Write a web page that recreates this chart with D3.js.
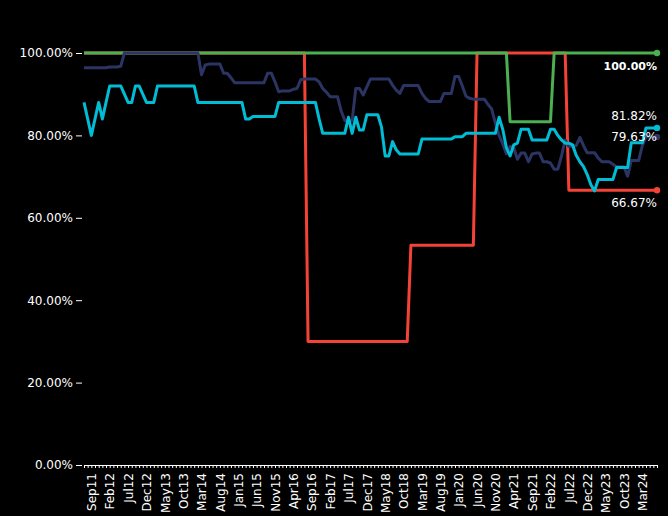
<!DOCTYPE html>
<html>
<head>
<meta charset="utf-8">
<script src="https://cdn.jsdelivr.net/npm/d3@7"></script>
<style>
  body { margin: 0; background: #000; }
  svg { display: block; background: #000; font-family: "DejaVu Sans", sans-serif; }
</style>
</head>
<body>
<svg id="chart" width="668" height="516"></svg>
<script>

// months on the x axis, Jul 2011 .. Jul 2024
var months = [
  "Jul11","Aug11","Sep11","Oct11","Nov11","Dec11",
  "Jan12","Feb12","Mar12","Apr12","May12","Jun12","Jul12","Aug12","Sep12","Oct12","Nov12","Dec12",
  "Jan13","Feb13","Mar13","Apr13","May13","Jun13","Jul13","Aug13","Sep13","Oct13","Nov13","Dec13",
  "Jan14","Feb14","Mar14","Apr14","May14","Jun14","Jul14","Aug14","Sep14","Oct14","Nov14","Dec14",
  "Jan15","Feb15","Mar15","Apr15","May15","Jun15","Jul15","Aug15","Sep15","Oct15","Nov15","Dec15",
  "Jan16","Feb16","Mar16","Apr16","May16","Jun16","Jul16","Aug16","Sep16","Oct16","Nov16","Dec16",
  "Jan17","Feb17","Mar17","Apr17","May17","Jun17","Jul17","Aug17","Sep17","Oct17","Nov17","Dec17",
  "Jan18","Feb18","Mar18","Apr18","May18","Jun18","Jul18","Aug18","Sep18","Oct18","Nov18","Dec18",
  "Jan19","Feb19","Mar19","Apr19","May19","Jun19","Jul19","Aug19","Sep19","Oct19","Nov19","Dec19",
  "Jan20","Feb20","Mar20","Apr20","May20","Jun20","Jul20","Aug20","Sep20","Oct20","Nov20","Dec20",
  "Jan21","Feb21","Mar21","Apr21","May21","Jun21","Jul21","Aug21","Sep21","Oct21","Nov21","Dec21",
  "Jan22","Feb22","Mar22","Apr22","May22","Jun22","Jul22","Aug22","Sep22","Oct22","Nov22","Dec22",
  "Jan23","Feb23","Mar23","Apr23","May23","Jun23","Jul23","Aug23","Sep23","Oct23","Nov23","Dec23",
  "Jan24","Feb24","Mar24","Apr24","May24","Jun24","Jul24"
];

var yTicks = [0, 20, 40, 60, 80, 100];

var greenValues = [
  100,100,100,100,100,100,
  100,100,100,100,100,100,100,100,100,100,100,100,
  100,100,100,100,100,100,100,100,100,100,100,100,
  100,100,100,100,100,100,100,100,100,100,100,100,
  100,100,100,100,100,100,100,100,100,100,100,100,
  100,100,100,100,100,100,100,100,100,100,100,100,
  100,100,100,100,100,100,100,100,100,100,100,100,
  100,100,100,100,100,100,100,100,100,100,100,100,
  100,100,100,100,100,100,100,100,100,100,100,100,
  100,100,100,100,100,100,100,100,100,100,100,100,
  100,100,83.33,83.33,83.33,83.33,83.33,83.33,83.33,83.33,83.33,83.33,
  83.33,83.33,100,100,100,100,100,100,100,100,100,100,
  100,100,100,100,100,100,100,100,100,100,100,100,
  100,100,100,100,100,100,100
];

var redValues = [
  100,100,100,100,100,100,
  100,100,100,100,100,100,100,100,100,100,100,100,
  100,100,100,100,100,100,100,100,100,100,100,100,
  100,100,100,100,100,100,100,100,100,100,100,100,
  100,100,100,100,100,100,100,100,100,100,100,100,
  100,100,100,100,100,100,100,30,30,30,30,30,
  30,30,30,30,30,30,30,30,30,30,30,30,
  30,30,30,30,30,30,30,30,30,30,30,53.33,
  53.33,53.33,53.33,53.33,53.33,53.33,53.33,53.33,53.33,53.33,53.33,53.33,
  53.33,53.33,53.33,53.33,53.33,100,100,100,100,100,100,100,
  100,100,100,100,100,100,100,100,100,100,100,100,
  100,100,100,100,100,100,66.67,66.67,66.67,66.67,66.67,66.67,
  66.67,66.67,66.67,66.67,66.67,66.67,66.67,66.67,66.67,66.67,66.67,66.67,
  66.67,66.67,66.67,66.67,66.67,66.67,66.67
];

var navyValues = [
  96.4,96.4,96.4,96.4,96.4,96.4,
  96.4,96.6,96.6,96.6,96.8,100,100,100,100,100,100,100,
  100,100,100,100,100,100,100,100,100,100,100,100,
  100,100,94.7,97.1,97.3,97.3,97.3,97.3,95.1,95.1,94,92.8,
  92.8,92.8,92.8,92.8,92.8,92.8,92.8,92.8,95.1,95.1,93,90.6,
  90.8,90.8,90.8,91.2,91.4,93.5,93.7,93.7,93.7,93.7,93,91.4,
  90.5,89.4,89.4,89.4,86,83.6,83.6,83.6,91.4,91.4,89.8,91.8,
  93.7,93.7,93.7,93.7,93.7,93.7,92.2,91,90.2,92.1,92.1,92.1,
  92.1,92.1,90.2,89,88.2,88.2,88.2,88.2,90.2,90.2,90.2,94.3,
  94.3,92,89.5,89,88.8,88.8,88.8,88.8,87.5,86.4,83,80,
  78,75.5,77.3,77,74.2,75.7,75.7,73.6,75.5,75.7,75.7,73.6,
  73.6,73.3,71.8,71.8,75,78.9,77.3,77.5,77.5,79.5,77.5,75.8,
  75.8,75.8,74.5,73.6,73.6,73.6,73,72.4,72.4,72.4,70.1,73.9,
  73.9,73.9,77.5,79.63,79.63,79.63,79.63
];

var cyanValues = [
  88,84,80,84,88,84,
  88,92,92,92,92,90,88,88,92,92,90,88,
  88,88,92,92,92,92,92,92,92,92,92,92,
  92,88,88,88,88,88,88,88,88,88,88,88,
  88,88,84,84,84.6,84.6,84.6,84.6,84.6,84.6,84.6,88,
  88,88,88,88,88,88,88,88,88,88,84,80.5,
  80.5,80.5,80.5,80.5,80.5,80.5,84.4,80.5,84.4,81.3,81.3,85,
  85,85,85,82,75,75,78.5,76.5,75.5,75.5,75.5,75.5,
  75.5,75.5,79.1,79.1,79.1,79.1,79.1,79.1,79.1,79.1,79.1,79.7,
  79.7,79.7,80.5,80.5,80.5,80.5,80.5,80.5,80.5,80.5,80.5,84.4,
  81.5,77,75,77.7,78.1,81.5,81.5,81.5,78.9,78.9,78.9,78.9,
  78.9,81.5,81.5,80,78.9,78.1,78.1,77.7,75.2,73.6,72.4,70.5,
  68,66.5,69.3,69.3,69.3,69.3,69.3,72.2,72.2,72.2,72.2,78.2,
  78.2,78.2,78.2,81.82,81.82,81.82,81.82
];

var series = [
  { name: "red",   values: redValues,   color: "#f44336", labelDy: 17, bold: false },
  { name: "green", values: greenValues, color: "#4caf50", labelDy: 17, bold: true },
  { name: "navy",  values: navyValues,  color: "#2c3463", labelDy: 4,  bold: false },
  { name: "cyan",  values: cyanValues,  color: "#00bcd4", labelDy: -8, bold: false }
];

var svg = d3.select("#chart");
var plotLeft = 82, plotRight = 657, plotTop = 53, plotBottom = 465;

var x = d3.scalePoint()
    .domain(months)
    .range([plotLeft + 2, plotRight]);

var y = d3.scaleLinear()
    .domain([0, 100])
    .range([plotBottom, plotTop]);

// y axis
var yAxis = svg.append("g")
    .attr("transform", "translate(" + plotLeft + ",0)")
    .call(d3.axisLeft(y).tickValues(yTicks).tickSize(6).tickPadding(3)
      .tickFormat(function(d){ return d.toFixed(2) + "%"; }));
yAxis.select(".domain").remove();
yAxis.selectAll("line").attr("stroke", "#fff");
yAxis.selectAll("text")
    .attr("fill", "#fff")
    .style("font-size", "12px")
    .style("font-family", "DejaVu Sans");

// x axis
var xAxis = svg.append("g")
    .attr("transform", "translate(0," + plotBottom + ")")
    .call(d3.axisBottom(x).tickSizeInner(3).tickSizeOuter(0)
      .tickFormat(function(d, i){ return i % 5 === 2 ? d : ""; }));
xAxis.select(".domain").attr("stroke", "#fff");
xAxis.selectAll("line").attr("stroke", "#fff");
xAxis.selectAll("text")
    .attr("fill", "#fff")
    .style("font-size", "12px")
    .style("font-family", "DejaVu Sans")
    .style("text-anchor", "end")
    .attr("x", -8)
    .attr("y", 0)
    .attr("dy", "0.35em")
    .attr("transform", "rotate(-90)");

var line = d3.line()
    .x(function(d, i){ return x(months[i]); })
    .y(function(d){ return y(d); });

series.forEach(function(s){
  svg.append("path")
      .datum(s.values)
      .attr("fill", "none")
      .attr("stroke", s.color)
      .attr("stroke-width", 3)
      .attr("stroke-linejoin", "round")
      .attr("d", line);
});

series.forEach(function(s){
  var last = s.values.length - 1;
  svg.append("circle")
      .attr("cx", x(months[last]))
      .attr("cy", y(s.values[last]))
      .attr("r", 3.2)
      .attr("fill", s.color);
});

// end labels
series.forEach(function(s){
  var last = s.values.length - 1;
  svg.append("text")
      .attr("x", x(months[last]))
      .attr("y", y(s.values[last]) + s.labelDy)
      .attr("text-anchor", "end")
      .attr("fill", "#fff")
      .style("font-size", s.bold ? "11px" : "12px")
      .style("font-weight", s.bold ? "bold" : "normal")
      .style("font-family", "DejaVu Sans")
      .text(s.values[last].toFixed(2) + "%");
});

</script>
</body>
</html>
